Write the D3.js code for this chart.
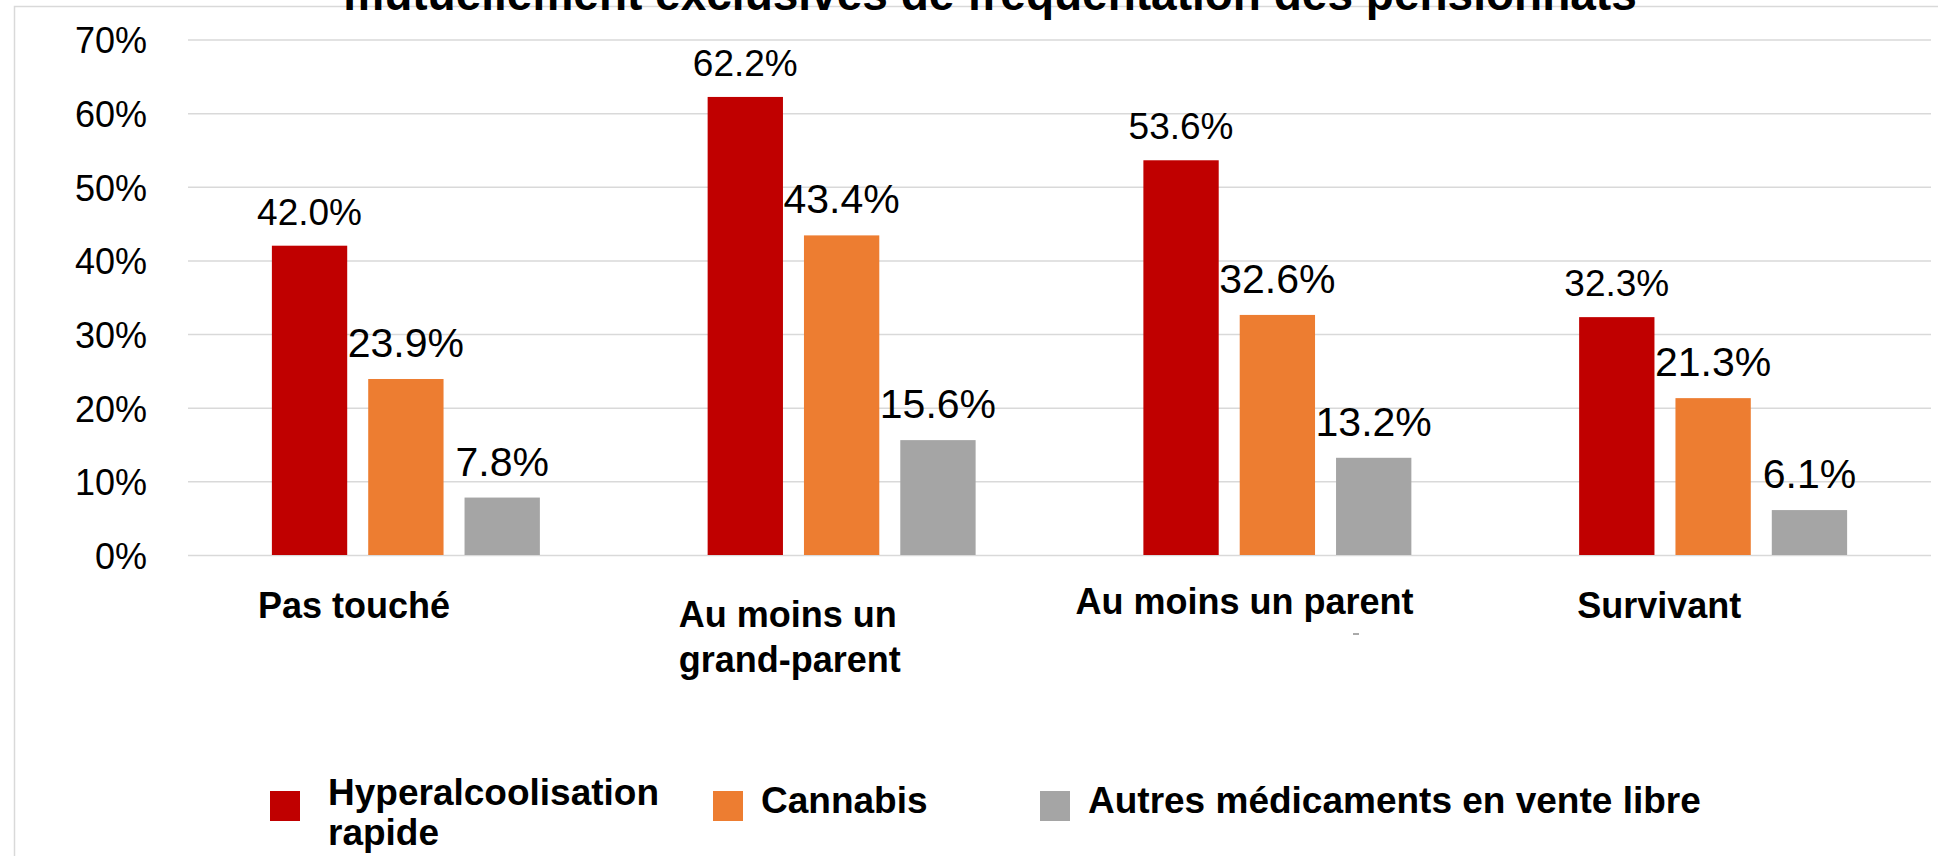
<!DOCTYPE html>
<html>
<head>
<meta charset="utf-8">
<script src="https://cdn.jsdelivr.net/npm/d3@7"></script>
<style>
    body { margin: 0; background: #fff; }
    svg { display: block; }
</style>
</head>
<body>
<svg id="chart"></svg>
<script>
//Chart data
let categories = ["Pas touché", "Au moins un grand-parent", "Au moins un parent", "Survivant"];
let seriesNames = ["Hyperalcoolisation rapide", "Cannabis", "Autres médicaments en vente libre"];
let hyperalcoolisation = [0.420, 0.622, 0.536, 0.323];
let cannabis = [0.239, 0.434, 0.326, 0.213];
let autresMedicaments = [0.078, 0.156, 0.132, 0.061];
let yTicks = [0, 0.1, 0.2, 0.3, 0.4, 0.5, 0.6, 0.7];
let titleText = "mutuellement exclusives de fréquentation des pensionnats";

//Layout (not data)
let colors = ["#C00000", "#ED7D31", "#A5A5A5"];
let labelSizes = [37, 41, 41];
let labelGaps = [21, 22, 22];
let catLines = [["Pas touché"], ["Au moins un", "grand-parent"], ["Au moins un parent"], ["Survivant"]];
let catLabelDx = [70, 55, 16, 82];
let catLabelY = [618, 627, 614, 618];
let legendLines = [["Hyperalcoolisation", "rapide"], ["Cannabis"], ["Autres médicaments en vente libre"]];
let legendX = [270, 713, 1040];
let legendTextY = [805, 813, 813];

let seriesValues = [hyperalcoolisation, cannabis, autresMedicaments];
let table = [];
categories.forEach((c, i) => {
    seriesNames.forEach((s, j) => {
        table.push({category: c, series: s, index: j, value: seriesValues[j][i]});
    });
});

let W = 1938, H = 856;
let plotLeft = 188, plotRight = 1931, plotTop = 39.5, plotBottom = 555;

let svg = d3.select("#chart")
    .attr("width", W)
    .attr("height", H);

//Chart area border
svg.append("rect")
    .attr("x", 14.5)
    .attr("y", 6.5)
    .attr("width", 2000)
    .attr("height", 1000)
    .attr("fill", "none")
    .attr("stroke", "#d9d9d9")
    .attr("stroke-width", 1.5);

//Title (only its last line shows at the top)
svg.append("text")
    .attr("x", 990)
    .attr("y", 10)
    .attr("text-anchor", "middle")
    .style("font-family", "Liberation Sans, Arial, sans-serif")
    .style("font-weight", "bold")
    .style("font-size", "46px")
    .attr("fill", "#000")
    .text(titleText);

let x0 = d3.scaleBand()
    .domain(categories)
    .range([plotLeft, plotRight])
    .paddingInner(0.385)
    .paddingOuter(0.1925);

let x1 = d3.scaleBand()
    .domain(seriesNames)
    .range([0, x0.bandwidth()])
    .paddingInner(0.218);

let yScale = d3.scaleLinear()
    .domain([0, 0.7])
    .range([plotBottom, plotTop]);

//Gridlines and y tick labels through the axis
let yAxis = svg.append("g")
    .attr("transform", "translate(" + plotLeft + ",0)")
    .call(d3.axisLeft(yScale)
        .tickValues(yTicks)
        .tickFormat(d3.format(".0%"))
        .tickSize(-(plotRight - plotLeft))
        .tickPadding(41));

yAxis.select(".domain").remove();
yAxis.selectAll(".tick line")
    .attr("stroke", "#d9d9d9")
    .attr("stroke-width", 1.5);
yAxis.selectAll(".tick text")
    .attr("fill", "#000")
    .attr("dy", "0.37em")
    .style("font-family", "Liberation Sans, Arial, sans-serif")
    .style("font-size", "36px");

//Bars
let g = svg.append("g");

g.selectAll("rect.bar")
    .data(table)
    .enter().append("rect")
    .attr("class", "bar")
    .attr("x", d => x0(d.category) + x1(d.series))
    .attr("y", d => yScale(d.value))
    .attr("width", x1.bandwidth())
    .attr("height", d => yScale(0) - yScale(d.value))
    .attr("fill", d => colors[d.index]);

//Data labels
g.selectAll("text.value")
    .data(table)
    .enter().append("text")
    .attr("class", "value")
    .attr("x", d => x0(d.category) + x1(d.series) + x1.bandwidth() / 2)
    .attr("y", d => yScale(d.value) - labelGaps[d.index])
    .attr("text-anchor", "middle")
    .attr("fill", "#000")
    .style("font-family", "Liberation Sans, Arial, sans-serif")
    .style("font-size", d => labelSizes[d.index] + "px")
    .text(d => d3.format(".1%")(d.value));

//Category labels
let catLabels = svg.append("g")
    .selectAll("text")
    .data(categories)
    .enter().append("text")
    .attr("x", (d, i) => x0(d) - x0.step() * x0.paddingInner() / 2 + catLabelDx[i])
    .attr("y", (d, i) => catLabelY[i])
    .attr("fill", "#000")
    .style("font-family", "Liberation Sans, Arial, sans-serif")
    .style("font-weight", "bold")
    .style("font-size", "36px");

catLabels.each(function (d, i) {
    let t = d3.select(this);
    let x = t.attr("x");
    catLines[i].forEach((line, k) => {
        t.append("tspan")
            .attr("x", x)
            .attr("dy", k === 0 ? 0 : 45)
            .text(line);
    });
});

//Small stray mark under "Au moins un parent"
svg.append("line")
    .attr("x1", 1353)
    .attr("x2", 1359)
    .attr("y1", 634)
    .attr("y2", 634)
    .attr("stroke", "#555")
    .attr("stroke-width", 1);

//Legend
let legend = svg.append("g")
    .selectAll("g")
    .data(seriesNames)
    .enter().append("g");

legend.append("rect")
    .attr("x", (d, i) => legendX[i])
    .attr("y", 791)
    .attr("width", 30)
    .attr("height", 30)
    .attr("fill", (d, i) => colors[i]);

legend.append("text")
    .attr("y", (d, i) => legendTextY[i])
    .attr("fill", "#000")
    .style("font-family", "Liberation Sans, Arial, sans-serif")
    .style("font-weight", "bold")
    .style("font-size", "37px")
    .each(function (d, i) {
        let t = d3.select(this);
        legendLines[i].forEach((line, k) => {
            t.append("tspan")
                .attr("x", legendX[i] + (i === 0 ? 58 : 48))
                .attr("dy", k === 0 ? 0 : 40)
                .text(line);
        });
    });
</script>
</body>
</html>
